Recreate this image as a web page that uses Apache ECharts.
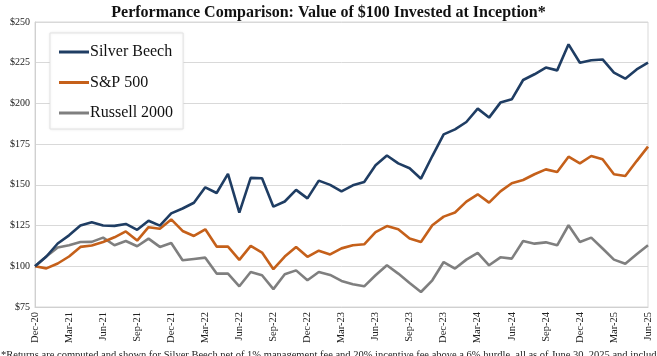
<!DOCTYPE html>
<html>
<head>
<meta charset="utf-8">
<script src="https://cdn.jsdelivr.net/npm/echarts@6/dist/echarts.min.js"></script>
<style>
html,body{margin:0;padding:0;background:#fff;}
#chart{width:657px;height:356px;}
</style>
</head>
<body>
<div id="chart"></div>
<script>
const months = [
  'Dec-20','Jan-21','Feb-21','Mar-21','Apr-21','May-21','Jun-21','Jul-21','Aug-21','Sep-21','Oct-21','Nov-21',
  'Dec-21','Jan-22','Feb-22','Mar-22','Apr-22','May-22','Jun-22','Jul-22','Aug-22','Sep-22','Oct-22','Nov-22',
  'Dec-22','Jan-23','Feb-23','Mar-23','Apr-23','May-23','Jun-23','Jul-23','Aug-23','Sep-23','Oct-23','Nov-23',
  'Dec-23','Jan-24','Feb-24','Mar-24','Apr-24','May-24','Jun-24','Jul-24','Aug-24','Sep-24','Oct-24','Nov-24',
  'Dec-24','Jan-25','Feb-25','Mar-25','Apr-25','May-25','Jun-25'
];
const silverBeech = [
  100, 106, 114, 119, 125, 127, 125, 124.8, 126, 122.4, 128, 125,
  132.5, 135.5, 139, 148.5, 145, 156.7, 133, 154.3, 154.1, 136.6, 139.8, 146.9,
  141.7, 152.6, 150, 146, 149.7, 151.8, 162, 168, 163.2, 160.2, 153.8, 167.7,
  181, 184.1, 188.6, 196.8, 191.3, 200.5, 202.5, 214.4, 217.9, 222, 220.3, 236.3,
  225, 226.5, 227, 218.9, 215.2, 220.9, 225
];
const sp500 = [
  100, 98.7, 101.7, 106, 111.9, 112.8, 114.9, 117.8, 121.4, 115.8, 124, 123.1,
  128.8, 121.7, 118.6, 122.7, 112.1, 112.1, 103.9, 112.5, 108.4, 98.2, 106, 111.9,
  105.8, 109.6, 107.3, 111, 112.9, 113.5, 121, 124.7, 122.7, 117, 114.9, 125.2,
  130.5, 133, 139.7, 144.2, 139.1, 146, 151, 153, 156.5, 159.5, 157.9, 167.3,
  163.2, 167.7, 165.7, 156.5, 155.4, 164.6, 173.5
];
const russell2000 = [
  100, 106, 111.5, 112.9, 114.9, 115, 117.6, 112.9, 115.5, 112.3, 117, 111.9,
  114.3, 103.7, 104.5, 105.3, 95.5, 95.5, 87.7, 96.5, 94.5, 86, 95.1, 97.5,
  91.4, 96.5, 94.7, 91, 89, 87.7, 94.5, 100.6, 95.5, 89.8, 84.2, 91.4,
  102.6, 98.6, 104.1, 108.2, 100.6, 105.5, 104.7, 115.5, 113.9, 114.7, 112.9, 125.2,
  114.9, 117.6, 110.9, 104.1, 101.6, 107.4, 112.9
];
const seriesNames = ['Silver Beech', 'S&P 500', 'Russell 2000'];
const seriesColors = ['#1F3D63', '#C5601A', '#7F7F7F'];
const titleText = 'Performance Comparison: Value of $100 Invested at Inception*';
const footnoteText = '*Returns are computed and shown for Silver Beech net of 1% management fee and 20% incentive fee above a 6% hurdle, all as of June 30, 2025 and including';

const serif = '"Liberation Serif", "DejaVu Serif", serif';
const chart = echarts.init(document.getElementById('chart'), null, {renderer: 'canvas'});
const dataSets = [silverBeech, sp500, russell2000];

chart.setOption({
  animation: false,
  backgroundColor: '#ffffff',
  title: {
    text: titleText,
    left: 'center',
    top: 0,
    textStyle: {fontFamily: serif, fontSize: 16, fontWeight: 'bold', color: '#111'}
  },
  legend: {
    orient: 'vertical',
    left: 50,
    top: 33,
    padding: [11, 10, 8, 9],
    itemGap: 14.5,
    itemWidth: 30,
    itemHeight: 3,
    icon: 'rect',
    backgroundColor: '#fff',
    borderColor: '#e3e3e3',
    borderWidth: 1,
    shadowColor: 'rgba(0,0,0,0.08)',
    shadowBlur: 3,
    textStyle: {fontFamily: serif, fontSize: 16, color: '#111', padding: [0, 0, 0, -4]},
    data: seriesNames
  },
  grid: {left: 35, right: 9, top: 22, bottom: 49, show: true, borderColor: '#d9d9d9', borderWidth: 1},
  xAxis: {
    type: 'category',
    data: months,
    boundaryGap: false,
    axisLine: {lineStyle: {color: '#d0d0d0'}},
    axisTick: {show: false},
    axisLabel: {
      rotate: 90,
      interval: 2,
      margin: 5,
      fontFamily: serif,
      fontSize: 10.5,
      color: '#222'
    },
    splitLine: {show: false}
  },
  yAxis: {
    type: 'value',
    min: 75,
    max: 250,
    interval: 25,
    axisLine: {show: true, lineStyle: {color: '#d0d0d0'}},
    axisTick: {show: false},
    axisLabel: {
      formatter: v => '$' + v,
      fontFamily: serif,
      fontSize: 10,
      color: '#222',
      margin: 5
    },
    splitLine: {lineStyle: {color: '#d9d9d9'}}
  },
  series: seriesNames.map((n, k) => ({
    name: n,
    type: 'line',
    data: dataSets[k],
    symbol: 'none',
    lineStyle: {width: 2.6, color: seriesColors[k]},
    itemStyle: {color: seriesColors[k]},
    z: 3 - k
  })),
  graphic: [{
    type: 'text',
    left: 1,
    top: 350,
    style: {text: footnoteText, font: '10.5px ' + serif, fill: '#222'}
  }]
});
</script>
</body>
</html>
